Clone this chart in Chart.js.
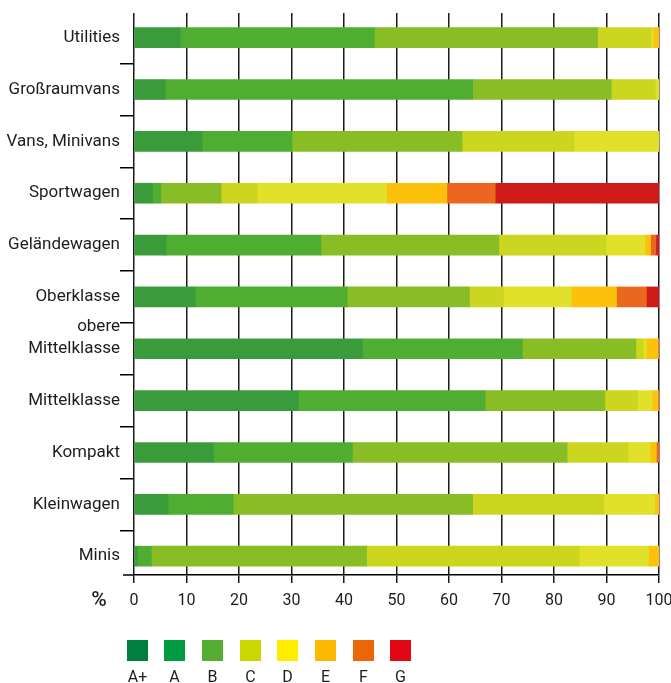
<!DOCTYPE html>
<html><head><meta charset="utf-8">
<script src="https://cdn.jsdelivr.net/npm/chart.js@4/dist/chart.umd.min.js"></script>
<style>
html,body{margin:0;padding:0;background:#fff;}
#wrap{position:relative;width:671px;height:683px;overflow:hidden;}
#legend{position:absolute;left:0;top:0;width:671px;height:683px;pointer-events:none;font-family:Roboto,sans-serif;font-size:16px;color:#1d1d1b;}
.lb{position:absolute;width:21px;height:21px;top:640px;}
.lt{position:absolute;top:667px;width:40px;text-align:center;line-height:20px;}
</style></head>
<body><div id="wrap"><canvas id="c" width="671" height="683"></canvas><div id="legend"></div></div>
<script>
const categories = ["Utilities","Großraumvans","Vans, Minivans","Sportwagen","Geländewagen","Oberklasse",["obere","Mittelklasse",""],"Mittelklasse","Kompakt","Kleinwagen","Minis"];
const grades = ["A+","A","B","C","D","E","F","G"];
const valAplus = [8.8, 6.0, 13.0, 3.5, 6.1, 11.7, 43.5, 31.3, 15.1, 6.5, 0.6];
const valA     = [37.0, 58.5, 17.1, 1.6, 29.5, 28.9, 30.5, 35.6, 26.5, 12.4, 2.7];
const valB     = [42.5, 26.4, 32.4, 11.5, 33.9, 23.3, 21.6, 22.8, 40.9, 45.6, 41.0];
const valC     = [10.2, 8.4, 21.3, 6.9, 20.4, 6.5, 1.4, 6.2, 11.6, 25.0, 40.5];
const valD     = [0.4, 0.7, 16.2, 24.6, 7.4, 12.9, 0.6, 2.8, 4.2, 9.7, 13.2];
const valE     = [1.1, 0, 0, 11.5, 1.1, 8.6, 2.2, 1.1, 1.2, 0.8, 2.0];
const valF     = [0, 0, 0, 9.2, 1.0, 5.7, 0.2, 0.2, 0.5, 0, 0];
const valG     = [0, 0, 0, 31.2, 0.6, 2.4, 0, 0, 0, 0, 0];
const xTickStep = 10;

const barColors = ["#3a9b3a","#4fae32","#88bd26","#ccd61f","#e1e12a","#fdc00b","#eb661f","#d01a1a"];
const legendColors = ["#007f3d","#009a40","#55ae32","#ccd600","#ffed00","#fbba00","#ec6608","#e30613"];
const series = [valAplus,valA,valB,valC,valD,valE,valF,valG];

const FONT = "Roboto, sans-serif";
const TXT = "#1d1d1b";

const extras = {
  id:'extras',
  afterDraw(chart){
    const ctx = chart.ctx, ca = chart.chartArea;
    ctx.save();
    ctx.strokeStyle = "#000"; ctx.lineWidth = 1.5;
    ctx.beginPath(); ctx.moveTo(123, ca.bottom); ctx.lineTo(ca.left, ca.bottom); ctx.stroke();
    ctx.fillStyle = TXT; ctx.font = "500 21px " + FONT;
    ctx.textAlign = "center"; ctx.textBaseline = "middle";
    ctx.fillText("%", 99, 601);
    ctx.restore();
  }
};

new Chart(document.getElementById('c'), {
  type:'bar',
  data:{
    labels: categories,
    datasets: series.map((d,i)=>({label:grades[i], data:d, backgroundColor:barColors[i], borderWidth:0, barThickness:20}))
  },
  options:{
    indexAxis:'y', responsive:false, animation:false,
    layout:{padding:{left:0,right:0,top:13,bottom:68}},
    plugins:{legend:{display:false}, tooltip:{enabled:false}},
    scales:{
      x:{
        stacked:true, min:0, max:100,
        afterFit: s => { s.height = 40; s.paddingLeft = 0; s.paddingRight = 12; },
        grid:{display:true, drawOnChartArea:true, color:"#1a1a1a", lineWidth:1.5, tickLength:8, drawTicks:true},
        border:{color:"#000", width:1.5},
        ticks:{stepSize:xTickStep, color:TXT, font:{family:FONT, size:16, lineHeight:'36px'}, padding:0, maxRotation:0}
      },
      y:{
        stacked:true,
        afterFit: s => { s.width = 134; },
        afterBuildTicks: s => { s._startValue = -0.476; s._valueRange = 10.839; },
        grid:{drawOnChartArea:false, drawTicks:true, tickLength:14, color:"#000", lineWidth:1.5, offset:true},
        border:{display:false},
        ticks:{color:TXT, font:{family:FONT, size:17, lineHeight:'22px'}, padding:0, autoSkip:false}
      }
    }
  },
  plugins:[extras]
});

const leg = document.getElementById('legend');
const boxX = [127,164,202,240,277,315,353,390];
grades.forEach((g,i)=>{
  const b = document.createElement('div'); b.className='lb';
  b.style.left = boxX[i]+'px'; b.style.background = legendColors[i]; leg.appendChild(b);
  const t = document.createElement('div'); t.className='lt';
  t.style.left = (boxX[i]+10.5-20)+'px'; t.textContent = g; leg.appendChild(t);
});
</script></body></html>
